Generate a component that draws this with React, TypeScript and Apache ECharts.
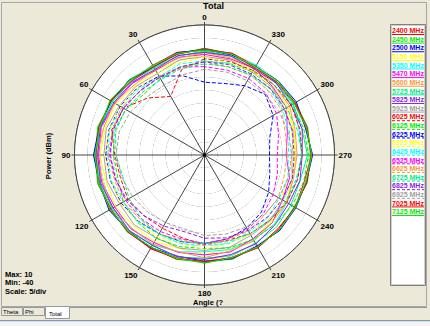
import React, { useEffect, useRef } from "react";
import * as echarts from "echarts";

// ---------- data ----------
const angles = [0, 15, 30, 45, 60, 75, 90, 105, 120, 135, 150, 165, 180, 195, 210, 225, 240, 255, 270, 285, 300, 315, 330, 345];

const seriesNames = [
  "2400 MHz", "2450 MHz", "2500 MHz", "5150 MHz", "5350 MHz", "5470 MHz", "5600 MHz", "5725 MHz", "5825 MHz", "5925 MHz",
  "6025 MHz", "6125 MHz", "6225 MHz", "6325 MHz", "6425 MHz", "6525 MHz", "6625 MHz", "6725 MHz", "6825 MHz", "6925 MHz",
  "7025 MHz", "7125 MHz",
];

const p2400 = [0.3, 0.9, -0.2, 0.2, 1.8, 1.4, 2.4, 1.7, 2.2, 1.1, 1.6, 0.9, 1.5, 0.7, 1.0, 0.0, 0.3, -0.3, 1.2, 0.5, -0.1, -0.9, -0.5, 0.6];
const p2450 = [1.1, 0.2, -0.6, 1.0, 1.2, 2.5, 2.0, 2.6, 1.5, 2.0, 0.9, 1.6, 1.1, 1.5, 0.6, 0.9, -0.2, 1.0, 0.7, 1.1, 0.4, -0.3, -1.1, 0.1];
const p2500 = [0.6, 0.7, -1.0, 0.8, 1.5, 1.9, 2.7, 1.9, 2.4, 1.4, 1.2, 0.3, 0.9, 1.3, 0.4, 1.0, 0.6, 0.5, 1.6, 0.2, 0.8, 0.2, -0.6, -0.2];
const p5150 = [-1.2, -2.3, -2.5, -2.4, -0.5, -0.5, 0.3, -0.8, -0.5, -1.5, -1.5, -2.8, -1.7, -2.7, -2.7, -3.8, -3.7, -4.9, -5.1, -4.4, -2.9, -2.9, -1.9, -2.1];
const p5350 = [-0.2, -0.6, -1.1, -0.9, 1.1, 1.2, 2.1, 0.9, 1.0, -0.2, -0.1, -1.4, -2.8, -2.3, -2.4, -2.1, -3.4, -3.1, -2.6, -2.4, -0.7, -0.8, 0.0, -0.7];
const p5470 = [-1.3, -1.1, -2.4, -0.9, -0.1, 1.1, 0.7, 0.9, -0.1, 0.1, -1.1, -1.2, -1.6, -1.4, -2.8, -3.1, -5.4, -6.1, -8.6, -7.0, -3.6, -2.9, -1.5, -1.7];
const p5600 = [-0.6, -1.5, -1.9, -1.8, 0.1, 0.2, 1.4, 0.5, 0.8, -0.3, -0.4, -1.5, -0.5, -1.8, -1.9, -3.3, -3.5, -4.6, -4.4, -3.9, -2.2, -2.1, -1.2, -1.3];
const p5725 = [0.0, -0.6, -1.4, 0.3, 0.8, 2.0, 1.6, 1.9, 1.1, 1.2, 0.2, 0.6, -0.3, 0.1, -0.9, -0.8, -1.6, -1.9, -0.4, -1.2, -0.6, -1.1, -0.7, -0.5];
const p5825 = [-0.5, -0.4, -2.0, -0.5, 0.3, 1.5, 1.1, 1.4, 0.6, 1.0, 0.1, 0.5, 0.2, -0.4, -0.5, -1.8, -2.6, -2.0, -2.4, -1.1, -1.6, -0.9, -1.8, -0.6];
const p5925 = [-2.1, -2.2, -3.8, -2.7, -2.1, -0.9, -1.3, -1.2, -2.3, -1.9, -3.1, -2.9, -3.3, -3.2, -4.3, -4.2, -5.3, -5.1, -6.4, -4.7, -4.5, -3.2, -3.3, -2.2];
const p6025 = [-3.0, -6.0, -14.0, -9.0, -4.0, -3.0, -5.5, -6.5, -6.0, -7.0, -7.5, -7.0, -5.5, -6.0, -5.0, -4.5, -3.5, -3.0, -2.5, -2.0, -1.5, -2.0, -2.5, -2.8];
const p6125 = [-4.0, -5.0, -6.0, -7.0, -5.0, -4.0, -5.0, -5.5, -4.0, -3.5, -3.0, -3.5, -4.0, -3.0, -2.5, -2.0, -1.0, -0.5, 0.0, -0.5, -1.0, -2.0, -3.0, -3.5];
const p6225 = [-12.0, -8.5, -5.0, -3.5, -2.5, -2.0, -2.0, -2.5, -3.0, -4.0, -5.0, -5.5, -6.0, -6.5, -7.5, -9.0, -11.5, -14.0, -15.0, -14.0, -9.5, -7.0, -9.2, -11.5];
const p6325 = [-2.2, -3.3, -3.7, -3.8, -2.2, -2.3, -1.5, -2.8, -2.7, -3.8, -3.7, -4.8, -3.7, -4.8, -4.7, -5.8, -5.7, -6.8, -5.7, -5.3, -3.7, -3.8, -2.9, -3.3];
const p6425 = [-3.8, -3.7, -5.3, -4.2, -3.3, -2.2, -2.8, -2.7, -3.8, -3.7, -4.8, -4.7, -5.3, -4.7, -5.8, -5.7, -6.8, -6.7, -7.8, -6.2, -5.3, -4.2, -4.3, -3.5];
const p6525 = [-6.0, -5.0, -5.5, -5.0, -4.0, -3.5, -3.8, -4.5, -5.0, -5.5, -6.0, -6.5, -6.0, -6.5, -7.0, -8.0, -9.5, -11.0, -12.0, -10.5, -8.0, -6.5, -6.0, -6.2];
const p6625 = [-4.2, -5.3, -5.2, -5.3, -3.2, -3.3, -2.9, -4.1, -3.9, -5.1, -4.9, -6.1, -5.2, -6.3, -6.2, -7.3, -7.2, -8.3, -8.2, -7.8, -5.7, -5.3, -4.5, -4.9];
const p6725 = [-5.0, -5.5, -6.5, -6.0, -5.0, -4.5, -6.0, -7.5, -6.5, -5.5, -5.0, -5.5, -6.0, -5.5, -5.0, -4.5, -4.0, -3.5, -2.5, -3.0, -3.5, -4.0, -4.5, -4.8];
const p6825 = [-4.2, -4.8, -5.5, -5.0, -4.0, -3.5, -3.5, -4.5, -5.5, -7.0, -8.5, -9.5, -8.0, -7.0, -6.5, -6.0, -5.5, -5.0, -5.5, -5.0, -4.5, -4.0, -4.0, -4.0];
const p6925 = [-7.0, -8.0, -9.0, -8.5, -7.0, -6.0, -6.0, -7.0, -8.0, -9.0, -10.0, -10.5, -9.0, -8.5, -8.0, -7.5, -7.0, -6.5, -6.5, -6.5, -6.8, -7.0, -7.0, -7.0];
const p7025 = [0.9, 0.1, -0.8, -0.1, 1.6, 2.1, 1.8, 2.3, 1.6, 1.8, 1.5, 1.4, 0.8, 1.0, 1.2, 0.4, 0.1, 0.8, 1.0, 0.9, 0.2, -0.5, -1.3, 0.4];
const p7125 = [0.4, 0.5, -0.3, 0.6, 2.0, 1.6, 2.2, 2.1, 2.0, 1.5, 1.0, 1.1, 1.6, 0.9, 0.8, 0.7, 0.4, 0.3, 1.3, 0.6, -0.2, 0.1, -0.7, 0.2];

const powers = [
  p2400, p2450, p2500, p5150, p5350, p5470, p5600, p5725, p5825, p5925,
  p6025, p6125, p6225, p6325, p6425, p6525, p6625, p6725, p6825, p6925,
  p7025, p7125,
];

const infoLines = ["Max: 10", "Min: -40", "Scale: 5/div"];
const tabNames = ["Theta", "Phi", "Total"];

// ---------- style ----------
const palette = ["#FF0000", "#00EE00", "#0000FF", "#FFFF00", "#00FFFF", "#FF00FF", "#FF9933", "#00EE88", "#8A1EF0", "#A0A0A0"];
const FONT = "'Liberation Sans', Arial, sans-serif";
const BG = "#ECE9D8";
const GRID = "#454545";

export default function App() {
  const ref = useRef<HTMLDivElement>(null);

  useEffect(() => {
    if (!ref.current) return;
    const chart = echarts.init(ref.current, undefined, { renderer: "svg" });

    const series: any[] = powers.map((vals, i) => {
      const pts = angles.map((a, j) => [vals[j], a]);
      pts.push([vals[0], 360]);
      const dashed = i >= 10 && i < 20;
      return {
        name: seriesNames[i],
        type: "line",
        coordinateSystem: "polar",
        data: pts,
        symbol: "none",
        smooth: false,
        z: 3,
        lineStyle: {
          color: palette[i % 10],
          width: 1,
          type: dashed ? [4, 2] : "solid",
        },
        itemStyle: { color: palette[i % 10] },
      };
    });

    const legendTop = 26.4;
    const legendStep = 8.62;

    const graphics: any[] = [
      { type: "rect", shape: { x: 1.5, y: 2.5, width: 425, height: 304 }, style: { fill: "none", stroke: "#A7A6AA", lineWidth: 1 }, z: 0 },
      { type: "rect", shape: { x: 390.5, y: 24.5, width: 35, height: 261 }, style: { fill: "#FFFFFF", stroke: "#808080", lineWidth: 1 }, z: 0 },
      { type: "rect", shape: { x: 391.5, y: 25.5, width: 33, height: 259 }, style: { fill: "none", stroke: "#D4D0C8", lineWidth: 1 }, z: 0 },
      { type: "text", x: 213.5, y: 6, style: { text: "Total", font: `bold 9px ${FONT}`, fill: "#000", align: "center", verticalAlign: "middle" } },
      { type: "text", x: 48, y: 156, rotation: Math.PI / 2, style: { text: "Power (dBm)", font: `bold 7.5px ${FONT}`, fill: "#000", align: "center", verticalAlign: "middle" } },
      { type: "text", x: 208, y: 302.5, style: { text: "Angle (?", font: `bold 7.5px ${FONT}`, fill: "#000", align: "center", verticalAlign: "middle" } },
      { type: "circle", shape: { cx: 204.5, cy: 155, r: 1.8 }, style: { fill: "#000" }, z: 10 },
      { type: "line", shape: { x1: 69, y1: 307.5, x2: 427, y2: 307.5 }, style: { stroke: "#919B9C", lineWidth: 1 } },
      { type: "rect", shape: { x: 0, y: 320, width: 430, height: 1.5 }, style: { fill: "#7F9DB9" } },
      { type: "rect", shape: { x: 0, y: 321.5, width: 430, height: 5 }, style: { fill: "#F4F4F0" } },
    ];

    infoLines.forEach((t, i) => {
      graphics.push({ type: "text", x: 5, y: 274 + i * 8.6, style: { text: t, font: `bold 7.5px ${FONT}`, fill: "#000", align: "left", verticalAlign: "middle" } });
    });

    const tabX = [1, 23, 45];
    const tabW = [21, 21, 24];
    tabNames.forEach((t, i) => {
      const sel = i === 2;
      graphics.push({
        type: "rect",
        shape: { x: tabX[i] + 0.5, y: sel ? 306.5 : 307.5, width: tabW[i], height: sel ? 12 : 8 },
        style: { fill: sel ? "#FCFCFE" : BG, stroke: "#919B9C", lineWidth: 1 },
      });
      graphics.push({
        type: "text",
        x: tabX[i] + (sel ? 4 : 2),
        y: sel ? 314 : 311.5,
        style: { text: t, font: `6px ${FONT}`, fill: "#000", align: "left", verticalAlign: "middle" },
      });
    });

    seriesNames.forEach((_, i) => {
      const dashed = i >= 10 && i < 20;
      const y = legendTop + legendStep * i + legendStep / 2 + 3.8;
      graphics.push({
        type: "line",
        shape: { x1: 392, y1: y, x2: 424, y2: y },
        style: { stroke: palette[i % 10], lineWidth: 1, lineDash: dashed ? [3, 2] : null },
        z: 5,
      });
    });

    chart.setOption({
      animation: false,
      backgroundColor: BG,
      polar: { center: [204.5, 155], radius: 130 },
      angleAxis: {
        type: "value",
        min: 0,
        max: 360,
        interval: 30,
        startAngle: 90,
        clockwise: false,
        axisLine: { show: true, lineStyle: { color: GRID, width: 1 } },
        axisTick: { show: true, length: 3, lineStyle: { color: GRID } },
        axisLabel: {
          show: true,
          margin: 4,
          color: "#000",
          fontSize: 8,
          fontWeight: "bold",
          fontFamily: FONT,
          formatter: (v: number) => (v >= 360 ? "" : String(v)),
        },
        splitLine: { show: true, lineStyle: { color: GRID, width: 1 } },
      },
      radiusAxis: {
        type: "value",
        min: -40,
        max: 10,
        interval: 5,
        axisLine: { show: false },
        axisTick: { show: false },
        axisLabel: { show: false },
        splitLine: { show: true, lineStyle: { color: GRID, width: 1 } },
        splitArea: { show: true, areaStyle: { color: ["#FFFFFF", "#FFFFFF"] } },
      },
      legend: {
        orient: "vertical",
        left: 387,
        top: legendTop,
        itemGap: 0,
        itemWidth: 0,
        itemHeight: 8,
        icon: "none",
        selectedMode: false,
        padding: 0,
        textStyle: { fontSize: 7, fontWeight: "bold", fontFamily: FONT, lineHeight: legendStep, padding: 0 },
        data: seriesNames.map((n, i) => ({ name: n, icon: "none", textStyle: { color: palette[i % 10] } })),
      },
      graphic: graphics,
      series,
    });

    return () => chart.dispose();
  }, []);

  return (
    <div
      ref={ref}
      style={{ position: "fixed", left: 0, top: 0, width: 430, height: 326 }}
    />
  );
}
